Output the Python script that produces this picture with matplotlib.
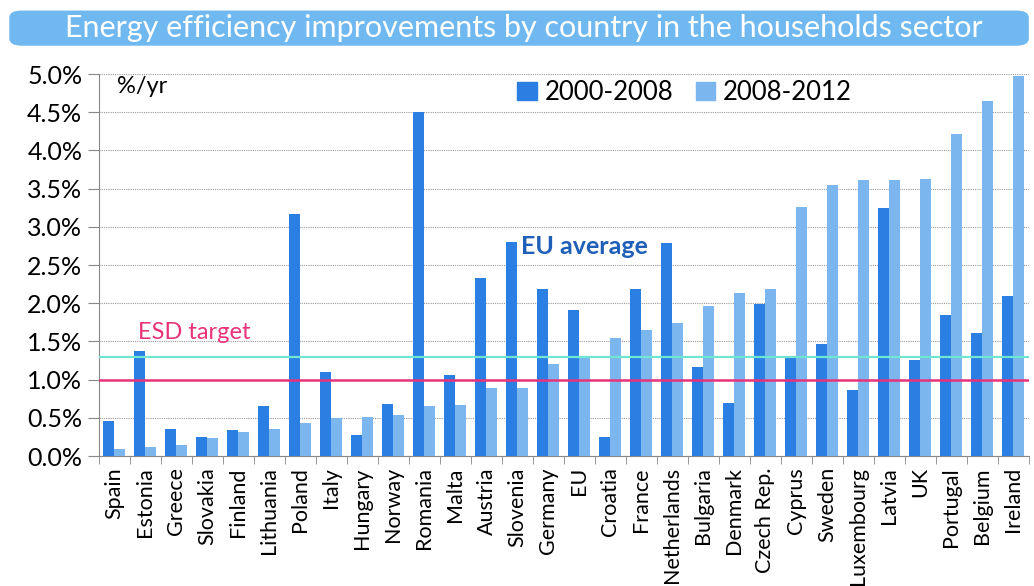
import numpy as np
import matplotlib
matplotlib.use("Agg")
from matplotlib import pyplot as plt
from matplotlib.patches import FancyBboxPatch, Patch

plt.rcParams['font.family'] = ['Lato', 'DejaVu Sans']

countries = ["Spain", "Estonia", "Greece", "Slovakia", "Finland", "Lithuania",
             "Poland", "Italy", "Hungary", "Norway", "Romania", "Malta",
             "Austria", "Slovenia", "Germany", "EU", "Croatia", "France",
             "Netherlands", "Bulgaria", "Denmark", "Czech Rep.", "Cyprus",
             "Sweden", "Luxembourg", "Latvia", "UK", "Portugal", "Belgium",
             "Ireland"]
p2000_2008 = [0.46, 1.38, 0.35, 0.25, 0.34, 0.66, 3.17, 1.10, 0.27, 0.68,
              4.50, 1.06, 2.33, 2.80, 2.18, 1.91, 0.25, 2.18, 2.79, 1.17,
              0.69, 1.99, 1.29, 1.47, 0.86, 3.24, 1.26, 1.84, 1.61, 2.09]
p2008_2012 = [0.09, 0.12, 0.15, 0.24, 0.31, 0.36, 0.43, 0.50, 0.51, 0.54,
              0.66, 0.67, 0.89, 0.89, 1.20, 1.29, 1.54, 1.65, 1.74, 1.97,
              2.14, 2.19, 3.26, 3.55, 3.61, 3.61, 3.63, 4.21, 4.65, 4.98]
esd_target = 1.0
eu_average = 1.3

DARK = "#2b7fe3"
LIGHT = "#7cb6ee"

fig = plt.figure(figsize=(10.34, 5.86), dpi=100)
ax = fig.add_axes([0.0957, 0.2218, 0.8994, 0.6519])

x = np.arange(len(countries))
w = 0.355
ax.bar(x - w / 2, p2000_2008, w, color=DARK, zorder=3)
ax.bar(x + w / 2, p2008_2012, w, color=LIGHT, zorder=3)

ax.axhline(esd_target, color="#e8337a", lw=1.8, zorder=4)
ax.axhline(eu_average, color="#6fe6d2", lw=1.6, zorder=4)

ax.set_xlim(-0.5, len(countries) - 0.5)
ax.set_ylim(0, 5.0)
ax.set_yticks(np.arange(0, 5.01, 0.5))
ax.set_yticklabels([f"{v:.1f}%" for v in np.arange(0, 5.01, 0.5)], fontsize=18)
ax.set_xticks(x)
ax.set_xticklabels(countries, rotation=90, fontsize=15.5)
ax.set_xticks(np.arange(-0.5, len(countries)), minor=True)
ax.tick_params(axis='x', which='major', length=0, pad=8)
ax.tick_params(axis='x', which='minor', length=6, color="#888888")
ax.tick_params(axis='y', length=8, color="#888888", pad=4)

ax.grid(axis='y', color="#999999", linestyle=(0, (1, 1)), lw=0.8, zorder=0)
for s in ["top", "right"]:
    ax.spines[s].set_visible(False)
ax.spines["left"].set_color("#888888")
ax.spines["bottom"].set_color("#888888")

ax.text(0.07, 4.84, "%/yr", fontsize=17, va="center", ha="left")
ax.text(0.75, 1.62, "ESD target", fontsize=17, color="#e8337a", va="center")
ax.text(13.1, 2.74, "EU average", fontsize=18, color="#1f5fb8",
        fontweight="bold", va="center")

handles = [Patch(color=DARK, label="2000-2008"), Patch(color=LIGHT, label="2008-2012")]
ax.legend(handles=handles, loc="upper left", bbox_to_anchor=(0.425, 1.045),
          ncol=2, frameon=False, fontsize=18.5, handlelength=0.75,
          handleheight=0.75, handletextpad=0.3, columnspacing=0.9)

# title banner
banner = FancyBboxPatch((0.009, 0.922), 0.986, 0.06,
                        boxstyle="round,pad=0,rounding_size=0.012",
                        transform=fig.transFigure, facecolor="#70b8f0",
                        edgecolor="none", zorder=0)
fig.patches.append(banner)
fig.text(0.507, 0.952, "Energy efficiency improvements by country in the households sector",
         color="white", fontsize=22, ha="center", va="center")

fig.savefig("out.png", dpi=100)
